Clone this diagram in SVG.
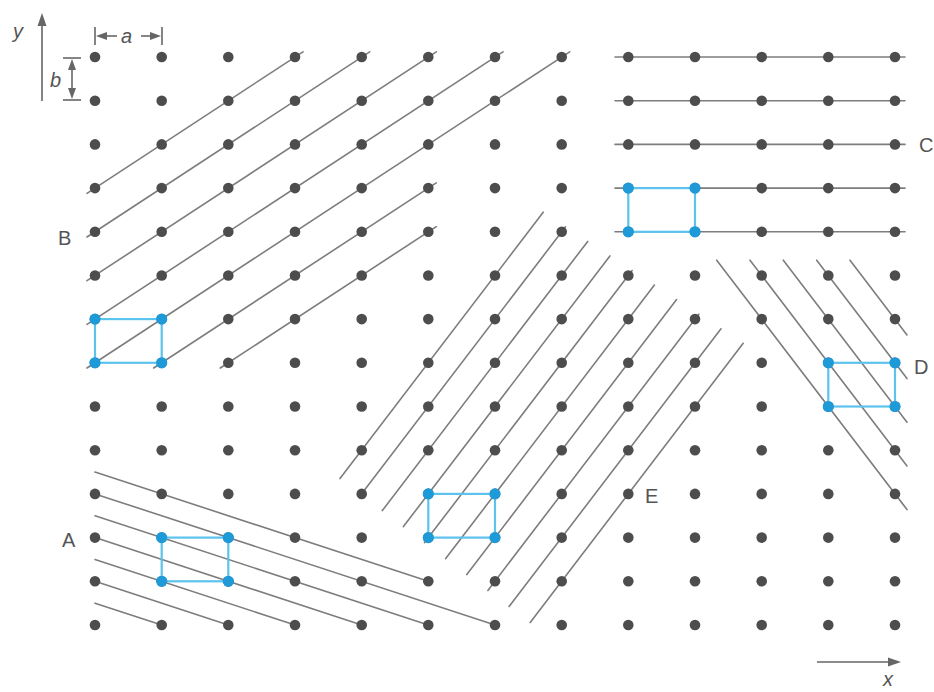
<svg xmlns="http://www.w3.org/2000/svg" width="934" height="692" viewBox="0 0 934 692">
<style>
.ln{stroke:#7d7d7d;stroke-width:1.6;fill:none;stroke-linecap:round}
.dot{fill:#4d4d4d}
.cell{stroke:#5cc2ee;stroke-width:2.2;fill:none}
.bd{fill:#1f9ad8}
.lbl{font-family:"Liberation Sans",Arial,sans-serif;font-size:20px;fill:#555}
.it{font-family:"Liberation Sans",Arial,sans-serif;font-size:20px;font-style:italic;fill:#555}
.ax{stroke:#666;stroke-width:1.6;fill:none}
.ah{fill:#666}
</style>
<defs>
<g id="row">
<circle class="dot" cx="95" cy="0" r="5.3"/><circle class="dot" cx="161.7" cy="0" r="5.3"/><circle class="dot" cx="228.3" cy="0" r="5.3"/><circle class="dot" cx="295" cy="0" r="5.3"/><circle class="dot" cx="361.7" cy="0" r="5.3"/><circle class="dot" cx="428.3" cy="0" r="5.3"/><circle class="dot" cx="495" cy="0" r="5.3"/><circle class="dot" cx="561.7" cy="0" r="5.3"/><circle class="dot" cx="628.3" cy="0" r="5.3"/><circle class="dot" cx="695" cy="0" r="5.3"/><circle class="dot" cx="761.7" cy="0" r="5.3"/><circle class="dot" cx="828.3" cy="0" r="5.3"/><circle class="dot" cx="895" cy="0" r="5.3"/>
</g>
</defs>
<rect width="934" height="692" fill="#fff"/>
<g id="connectors">
<g id="family-B">
<line class="ln" x1="87" y1="193.3" x2="303" y2="51.8"/>
<line class="ln" x1="87" y1="237" x2="369.7" y2="51.8"/>
<line class="ln" x1="87" y1="280.7" x2="436.3" y2="51.8"/>
<line class="ln" x1="87" y1="324.4" x2="503" y2="51.8"/>
<line class="ln" x1="87" y1="368" x2="569.7" y2="51.8"/>
<line class="ln" x1="153.7" y1="368" x2="436.3" y2="182.9"/>
<line class="ln" x1="220.3" y1="368" x2="436.3" y2="226.6"/>
</g>
<g id="family-C">
<line class="ln" x1="615" y1="57" x2="905" y2="57"/>
<line class="ln" x1="615" y1="100.7" x2="905" y2="100.7"/>
<line class="ln" x1="615" y1="144.4" x2="905" y2="144.4"/>
<line class="ln" x1="615" y1="188.1" x2="905" y2="188.1"/>
<line class="ln" x1="615" y1="231.8" x2="905" y2="231.8"/>
</g>
<g id="family-D">
<line class="ln" x1="716.7" y1="260.2" x2="907" y2="509.6"/>
<line class="ln" x1="750" y1="260.2" x2="907" y2="465.9"/>
<line class="ln" x1="783.3" y1="260.2" x2="907" y2="422.2"/>
<line class="ln" x1="816.7" y1="260.2" x2="907" y2="378.6"/>
<line class="ln" x1="850" y1="260.2" x2="907" y2="334.9"/>
</g>
<g id="family-E">
<line class="ln" x1="543.2" y1="212.2" x2="340" y2="478.6"/>
<line class="ln" x1="565.5" y1="226.8" x2="361.1" y2="494.6"/>
<line class="ln" x1="587.7" y1="241.4" x2="382.3" y2="510.6"/>
<line class="ln" x1="609.9" y1="255.9" x2="403.4" y2="526.6"/>
<line class="ln" x1="632.1" y1="270.5" x2="424.5" y2="542.6"/>
<line class="ln" x1="654.4" y1="285.1" x2="445.7" y2="558.6"/>
<line class="ln" x1="676.6" y1="299.6" x2="466.8" y2="574.6"/>
<line class="ln" x1="698.8" y1="314.2" x2="487.9" y2="590.5"/>
<line class="ln" x1="721" y1="328.8" x2="509.1" y2="606.5"/>
<line class="ln" x1="743.2" y1="343.3" x2="530.2" y2="622.5"/>
</g>
<g id="family-A">
<line class="ln" x1="95" y1="472.05" x2="428.3" y2="581.3"/>
<line class="ln" x1="95" y1="493.9" x2="495" y2="625"/>
<line class="ln" x1="95" y1="515.75" x2="428.3" y2="625"/>
<line class="ln" x1="95" y1="537.6" x2="361.7" y2="625"/>
<line class="ln" x1="95" y1="559.45" x2="295" y2="625"/>
<line class="ln" x1="95" y1="581.3" x2="228.3" y2="625"/>
<line class="ln" x1="95" y1="603.15" x2="161.7" y2="625"/>
</g>
</g>
<g id="lattice">
<use href="#row" y="57"/><use href="#row" y="100.7"/><use href="#row" y="144.4"/><use href="#row" y="188.1"/><use href="#row" y="231.8"/><use href="#row" y="275.5"/><use href="#row" y="319.1"/><use href="#row" y="362.8"/><use href="#row" y="406.5"/><use href="#row" y="450.2"/><use href="#row" y="493.9"/><use href="#row" y="537.6"/><use href="#row" y="581.3"/><use href="#row" y="625"/>
</g>
<g id="cell-A">
<rect class="cell" x="161.7" y="537.6" width="66.6" height="43.7"/>
<circle class="bd" cx="161.7" cy="537.6" r="5.6"/><circle class="bd" cx="228.3" cy="537.6" r="5.6"/><circle class="bd" cx="161.7" cy="581.3" r="5.6"/><circle class="bd" cx="228.3" cy="581.3" r="5.6"/>
</g>
<g id="cell-B">
<rect class="cell" x="95" y="319.1" width="66.7" height="43.7"/>
<circle class="bd" cx="95" cy="319.1" r="5.6"/><circle class="bd" cx="161.7" cy="319.1" r="5.6"/><circle class="bd" cx="95" cy="362.8" r="5.6"/><circle class="bd" cx="161.7" cy="362.8" r="5.6"/>
</g>
<g id="cell-C">
<rect class="cell" x="628.3" y="188.1" width="66.7" height="43.7"/>
<circle class="bd" cx="628.3" cy="188.1" r="5.6"/><circle class="bd" cx="695" cy="188.1" r="5.6"/><circle class="bd" cx="628.3" cy="231.8" r="5.6"/><circle class="bd" cx="695" cy="231.8" r="5.6"/>
</g>
<g id="cell-D">
<rect class="cell" x="828.3" y="362.8" width="66.7" height="43.7"/>
<circle class="bd" cx="828.3" cy="362.8" r="5.6"/><circle class="bd" cx="895" cy="362.8" r="5.6"/><circle class="bd" cx="828.3" cy="406.5" r="5.6"/><circle class="bd" cx="895" cy="406.5" r="5.6"/>
</g>
<g id="cell-E">
<rect class="cell" x="428.3" y="493.9" width="66.7" height="43.7"/>
<circle class="bd" cx="428.3" cy="493.9" r="5.6"/><circle class="bd" cx="495" cy="493.9" r="5.6"/><circle class="bd" cx="428.3" cy="537.6" r="5.6"/><circle class="bd" cx="495" cy="537.6" r="5.6"/>
</g>
<g id="labels">
<text class="lbl" x="58" y="245">B</text>
<text class="lbl" x="919" y="152">C</text>
<text class="lbl" x="914" y="374">D</text>
<text class="lbl" x="62" y="547">A</text>
<text class="lbl" x="645" y="503">E</text>
</g>
<g id="axes">
<line class="ax" x1="42" y1="101" x2="42" y2="24"/>
<polygon class="ah" points="42,13 37.5,26 46.5,26"/>
<text class="it" x="13" y="38">y</text>
<line class="ax" x1="817" y1="662" x2="889" y2="662"/>
<polygon class="ah" points="901,662 888,657.5 888,666.5"/>
<text class="it" x="883" y="686">x</text>
</g>
<g id="dim-a">
<line class="ax" x1="95" y1="27" x2="95" y2="45"/>
<line class="ax" x1="162" y1="27" x2="162" y2="45"/>
<line class="ax" x1="104" y1="36" x2="117" y2="36"/>
<line class="ax" x1="141" y1="36" x2="153" y2="36"/>
<polygon class="ah" points="96,36 107,32 107,40"/>
<polygon class="ah" points="161,36 150,32 150,40"/>
<text class="it" x="121" y="43">a</text>
</g>
<g id="dim-b">
<line class="ax" x1="63" y1="58" x2="81" y2="58"/>
<line class="ax" x1="63" y1="100" x2="81" y2="100"/>
<line class="ax" x1="72" y1="68" x2="72" y2="90"/>
<polygon class="ah" points="72,59 68,70 76,70"/>
<polygon class="ah" points="72,99 68,88 76,88"/>
<text class="it" x="50" y="87">b</text>
</g>
</svg>
